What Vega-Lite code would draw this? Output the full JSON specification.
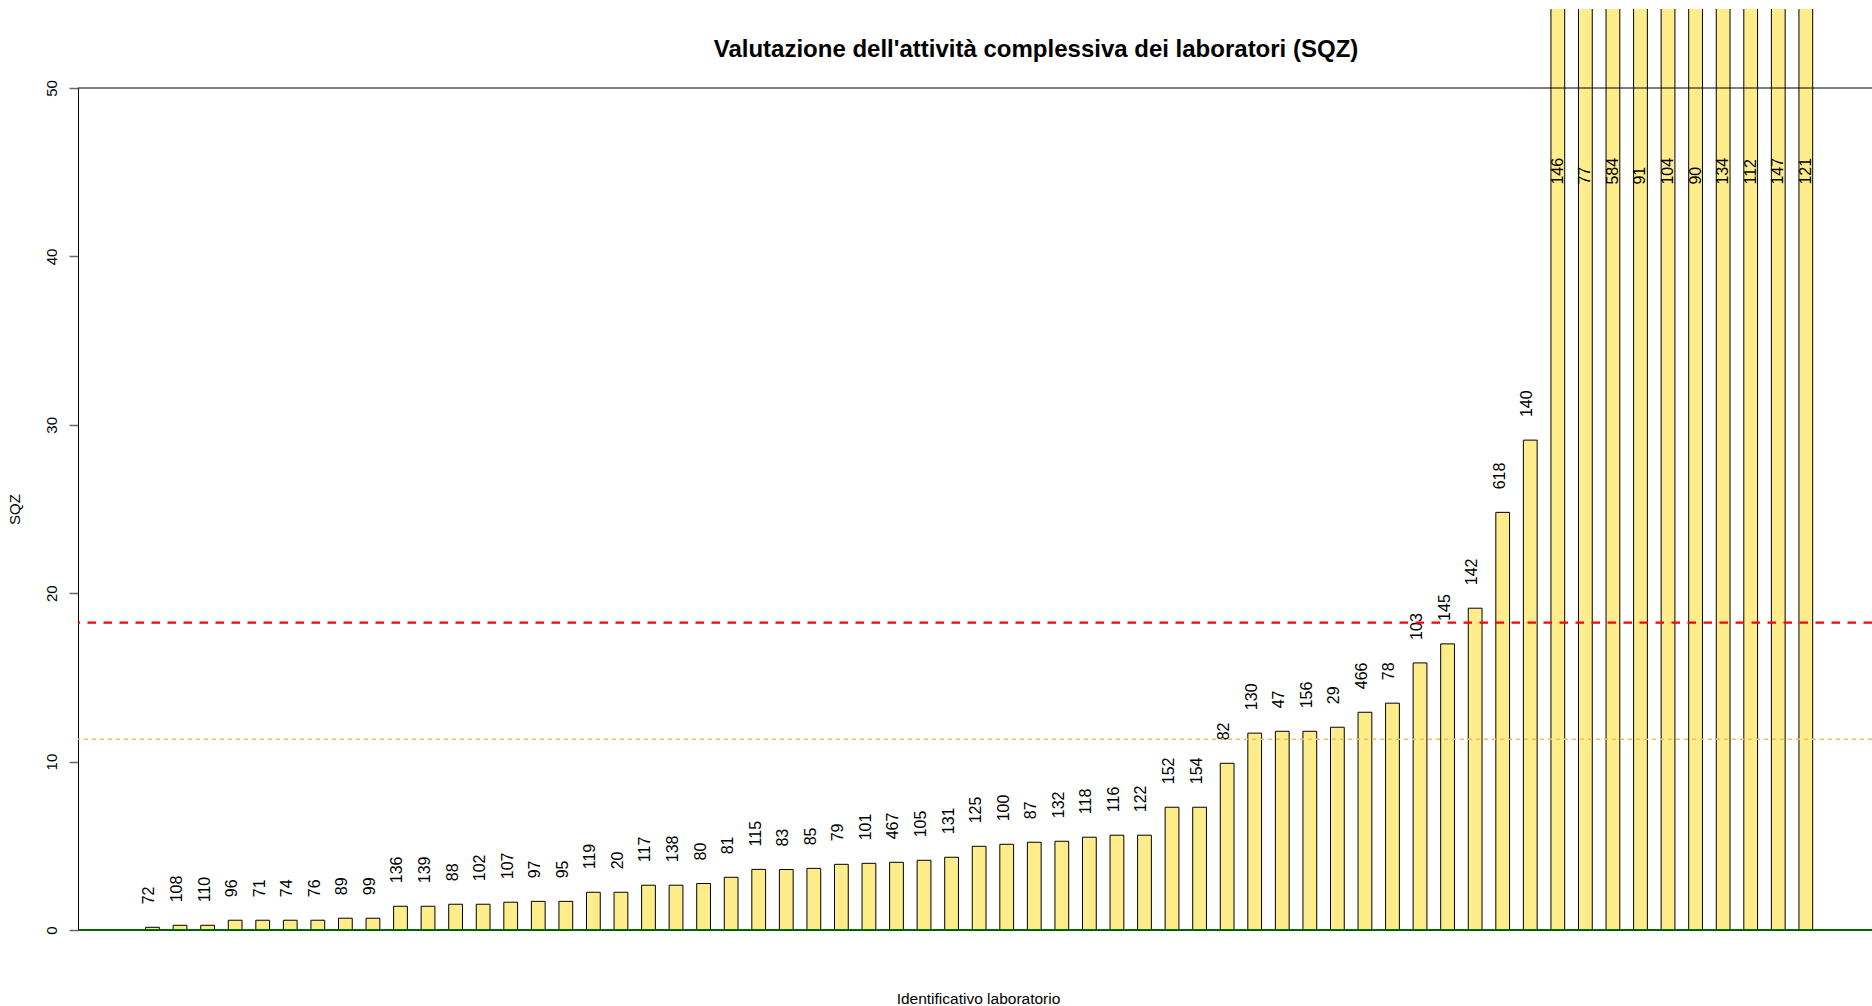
{
  "$schema": "https://vega.github.io/schema/vega-lite/v6.json",
  "autosize": "none",
  "width": 1794,
  "height": 921,
  "padding": {"left": 78, "top": 9, "right": 0, "bottom": 76},
  "background": "white",
  "config": {
    "font": "Liberation Sans",
    "view": {"stroke": null},
    "axis": {"grid": false}
  },
  "title": {
    "text": "Valutazione dell'attività complessiva dei laboratori (SQZ)",
    "font": "Liberation Sans",
    "fontSize": 24,
    "fontWeight": "bold",
    "color": "black",
    "anchor": "middle",
    "frame": "group",
    "baseline": "alphabetic",
    "offset": -72,
    "dx": 61
  },
  "data": {
    "values": [
      {"lab": "72", "sqz": 0.16},
      {"lab": "108", "sqz": 0.28},
      {"lab": "110", "sqz": 0.28},
      {"lab": "96", "sqz": 0.58},
      {"lab": "71", "sqz": 0.58},
      {"lab": "74", "sqz": 0.58},
      {"lab": "76", "sqz": 0.58},
      {"lab": "89", "sqz": 0.7},
      {"lab": "99", "sqz": 0.7},
      {"lab": "136", "sqz": 1.41},
      {"lab": "139", "sqz": 1.41},
      {"lab": "88", "sqz": 1.53},
      {"lab": "102", "sqz": 1.53},
      {"lab": "107", "sqz": 1.65},
      {"lab": "97", "sqz": 1.7},
      {"lab": "95", "sqz": 1.7},
      {"lab": "119", "sqz": 2.24},
      {"lab": "20", "sqz": 2.24},
      {"lab": "117", "sqz": 2.66},
      {"lab": "138", "sqz": 2.66},
      {"lab": "80", "sqz": 2.76},
      {"lab": "81", "sqz": 3.13},
      {"lab": "115", "sqz": 3.6},
      {"lab": "83", "sqz": 3.59},
      {"lab": "85", "sqz": 3.66},
      {"lab": "79", "sqz": 3.9},
      {"lab": "101", "sqz": 3.96},
      {"lab": "467", "sqz": 4.02},
      {"lab": "105", "sqz": 4.14},
      {"lab": "131", "sqz": 4.32},
      {"lab": "125", "sqz": 4.97},
      {"lab": "100", "sqz": 5.09},
      {"lab": "87", "sqz": 5.21},
      {"lab": "132", "sqz": 5.27},
      {"lab": "118", "sqz": 5.51},
      {"lab": "116", "sqz": 5.63},
      {"lab": "122", "sqz": 5.63},
      {"lab": "152", "sqz": 7.29},
      {"lab": "154", "sqz": 7.29},
      {"lab": "82", "sqz": 9.9},
      {"lab": "130", "sqz": 11.69},
      {"lab": "47", "sqz": 11.8},
      {"lab": "156", "sqz": 11.8},
      {"lab": "29", "sqz": 12.04},
      {"lab": "466", "sqz": 12.93},
      {"lab": "78", "sqz": 13.47},
      {"lab": "103", "sqz": 15.86},
      {"lab": "145", "sqz": 16.99},
      {"lab": "142", "sqz": 19.11},
      {"lab": "618", "sqz": 24.8},
      {"lab": "140", "sqz": 29.09},
      {"lab": "146", "sqz": 58},
      {"lab": "77", "sqz": 65},
      {"lab": "584", "sqz": 74},
      {"lab": "91", "sqz": 85},
      {"lab": "104", "sqz": 96},
      {"lab": "90", "sqz": 110},
      {"lab": "134", "sqz": 130},
      {"lab": "112", "sqz": 160},
      {"lab": "147", "sqz": 200},
      {"lab": "121", "sqz": 260}
    ]
  },
  "layer": [
    {
      "mark": {"type": "bar", "fill": "#FFEC8B", "stroke": "black", "strokeWidth": 1, "clip": true},
      "encoding": {
        "x": {
          "field": "lab",
          "type": "nominal",
          "sort": null,
          "scale": {"range": [67.6, 1734.7], "paddingInner": 0.5, "paddingOuter": 0},
          "axis": {
            "labels": false,
            "ticks": false,
            "domain": false,
            "title": "Identificativo laboratorio",
            "titleFont": "Liberation Sans",
            "titleFontSize": 15.5,
            "titleFontWeight": "normal",
            "titleColor": "black",
            "titleBaseline": "alphabetic",
            "titleX": 900,
            "titleY": 73
          }
        },
        "y": {
          "field": "sqz",
          "type": "quantitative",
          "scale": {"domain": [0, 50], "range": [921, 79], "nice": false, "zero": true},
          "axis": {
            "values": [0, 10, 20, 30, 40, 50],
            "domain": true,
            "domainColor": "black",
            "domainWidth": 1,
            "ticks": true,
            "tickColor": "#666666",
            "tickWidth": 1.5,
            "tickSize": 9,
            "labelAngle": 270,
            "labelAlign": "center",
            "labelBaseline": "alphabetic",
            "labelPadding": 13,
            "labelFontSize": 15,
            "labelColor": "black",
            "labelFont": "Liberation Sans",
            "title": "SQZ",
            "titleFont": "Liberation Sans",
            "titleFontSize": 15,
            "titleFontWeight": "normal",
            "titleColor": "black",
            "titleAngle": 270,
            "titleBaseline": "alphabetic",
            "titleX": -59
          }
        }
      }
    },
    {
      "transform": [{"filter": "datum.sqz <= 50"}],
      "mark": {"type": "text", "angle": 270, "align": "left", "baseline": "middle", "dx": 23, "dy": -3, "fontSize": 16, "font": "Liberation Sans", "color": "black"},
      "encoding": {
        "x": {"field": "lab", "type": "nominal", "sort": null},
        "y": {"field": "sqz", "type": "quantitative"},
        "text": {"field": "lab"}
      }
    },
    {
      "transform": [{"filter": "datum.sqz > 50"}],
      "mark": {"type": "text", "angle": 270, "align": "left", "baseline": "middle", "dx": 23, "dy": 0, "fontSize": 16, "font": "Liberation Sans", "color": "black"},
      "encoding": {
        "x": {"field": "lab", "type": "nominal", "sort": null},
        "y": {"datum": 42.9, "type": "quantitative"},
        "text": {"field": "lab"}
      }
    },
    {
      "data": {"values": [{"ref": "top"}]},
      "mark": {"type": "rule", "color": "black", "strokeWidth": 1},
      "encoding": {"y": {"datum": 50, "type": "quantitative"}}
    },
    {
      "data": {"values": [{"ref": "red"}]},
      "mark": {"type": "rule", "color": "#FF0000", "strokeWidth": 2.3, "strokeDash": [8.5, 7.5]},
      "encoding": {"y": {"datum": 18.25, "type": "quantitative"}}
    },
    {
      "data": {"values": [{"ref": "orange"}]},
      "mark": {"type": "rule", "color": "#F2BE5C", "strokeWidth": 1.5, "strokeDash": [4, 4]},
      "encoding": {"y": {"datum": 11.33, "type": "quantitative"}}
    },
    {
      "data": {"values": [{"ref": "zero"}]},
      "mark": {"type": "rule", "color": "#006400", "strokeWidth": 2},
      "encoding": {"y": {"datum": 0, "type": "quantitative"}}
    }
  ]
}
